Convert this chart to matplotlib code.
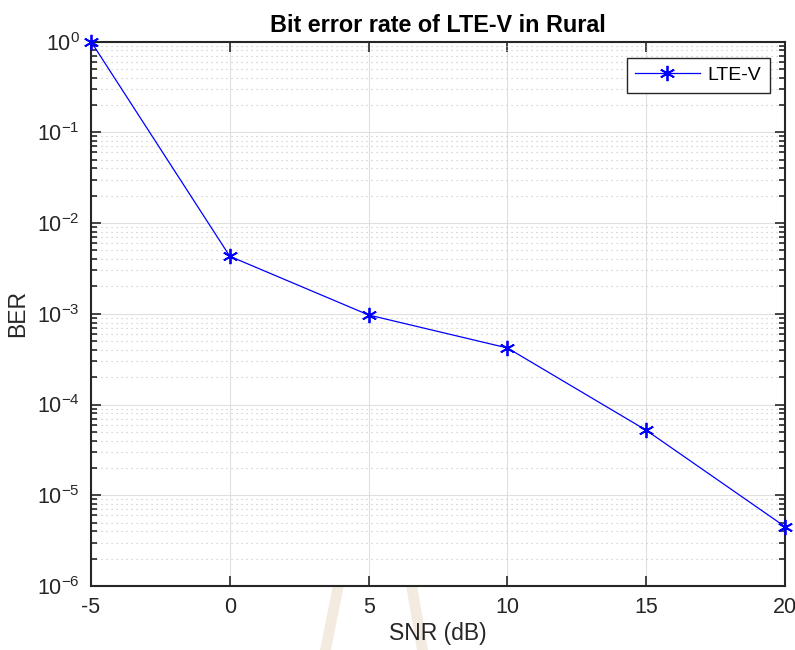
import math
import matplotlib
matplotlib.use('Agg')
import matplotlib.pyplot as plt
from matplotlib.ticker import LogLocator, FixedLocator, NullFormatter, FuncFormatter
from matplotlib.patches import Polygon

plt.rcParams['font.family'] = ['Liberation Sans', 'DejaVu Sans']
plt.rcParams['mathtext.fontset'] = 'custom'
plt.rcParams['mathtext.rm'] = 'Liberation Sans'
plt.rcParams['mathtext.it'] = 'Liberation Sans'
plt.rcParams['axes.unicode_minus'] = False

snr = [-5, 0, 5, 10, 15, 20]
ber = [1.0, 4.3e-3, 9.7e-4, 4.2e-4, 5.2e-5, 4.5e-6]
xticks = [-5, 0, 5, 10, 15, 20]

fig = plt.figure(figsize=(7.95, 6.5), dpi=100)
ax = fig.add_axes([0.1145, 0.0985, 0.873, 0.8375])

# faint watermark strokes below the axes
wm = '#f3ebdf'
fig.patches.append(Polygon([[333/795, 65/650], [344/795, 65/650], [331/795, 0], [320/795, 0]],
                           closed=True, transform=fig.transFigure, facecolor=wm, edgecolor='none', zorder=-5))
fig.patches.append(Polygon([[406/795, 65/650], [417/795, 65/650], [428/795, 0], [417/795, 0]],
                           closed=True, transform=fig.transFigure, facecolor=wm, edgecolor='none', zorder=-5))

ax.semilogy(snr, ber, color='#0000ff', marker=(6, 2, 0), markersize=11, markeredgewidth=1.3,
            linewidth=0.9, label='LTE-V', clip_on=False, zorder=5)

ax.set_xlim(-5, 20)
ax.set_ylim(1e-6, 1)
ax.xaxis.set_major_locator(FixedLocator(xticks))
ax.yaxis.set_major_locator(LogLocator(base=10, numticks=10))
ax.yaxis.set_minor_locator(LogLocator(base=10, subs=range(2, 10), numticks=10))
ax.yaxis.set_minor_formatter(NullFormatter())
ax.yaxis.set_major_formatter(FuncFormatter(lambda v, p: '10$^{\\mathregular{%d}}$' % round(math.log10(v))))

ax.grid(True, which='major', axis='both', color='#e0e0e0', linewidth=0.8, linestyle='-')
ax.grid(True, which='minor', axis='y', color='#c4c4c4', linewidth=0.8, linestyle=(0, (1, 3.5)))
ax.set_axisbelow(True)

ax.tick_params(which='both', direction='in', top=True, right=True, colors='#262626',
               labelcolor='#262626', labelsize=15.5, width=1.2)
ax.tick_params(which='major', length=7, pad=8)
ax.tick_params(which='minor', length=4)
for s in ax.spines.values():
    s.set_linewidth(1.5)
    s.set_color('#262626')

ax.set_title('Bit error rate of LTE-V in Rural', fontsize=16.8, fontweight='bold', pad=7)
ax.set_xlabel('SNR (dB)', fontsize=16.5, color='#262626', labelpad=3)
ax.set_ylabel('BER', fontsize=16.5, color='#262626', labelpad=6)

leg = ax.legend(loc='upper right', bbox_to_anchor=(0.978, 0.97), fontsize=14, fancybox=False,
                framealpha=1, edgecolor='#262626', borderaxespad=0, handlelength=3.3,
                handletextpad=0.4, borderpad=0.45)
leg.get_frame().set_linewidth(1.0)

fig.savefig('out.png', dpi=100)
